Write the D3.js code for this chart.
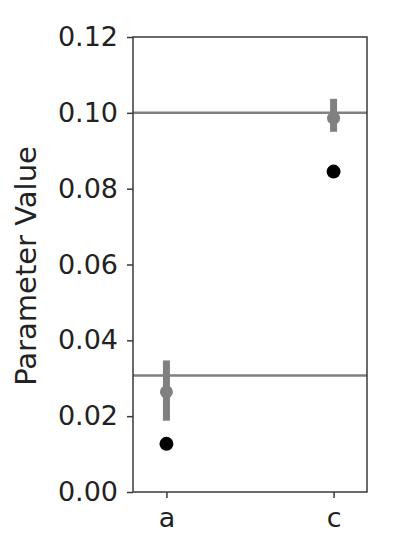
<!DOCTYPE html>
<html>
<head>
<meta charset="utf-8">
<script src="https://cdn.jsdelivr.net/npm/d3@7"></script>
<style>
  body { margin: 0; background: #fff; }
  text { font-family: "DejaVu Sans", sans-serif; }
</style>
</head>
<body>
<svg id="chart" width="407" height="550"></svg>
<script>
// data
const categories = ["a", "c"]
const estimate = [0.0264, 0.0986]
const errLow = [0.0188, 0.0950]
const errHigh = [0.0347, 0.1037]
const truth = [0.0127, 0.0845]
const refLines = [0.1000, 0.0307]
const yTicks = [0, 0.02, 0.04, 0.06, 0.08, 0.10, 0.12]

const svg = d3.select('#chart')
const margin = { left: 133, right: 40, top: 37, bottom: 58 }
const width = 407 - margin.left - margin.right
const height = 550 - margin.top - margin.bottom
const fontSize = 27

const g = svg.append('g').attr('transform', `translate(${margin.left},${margin.top})`)

const x = d3.scalePoint().domain(categories).range([0, width]).padding(0.2)
const y = d3.scaleLinear().domain([0, 0.12]).range([height, 0])

// reference lines
g.selectAll('.ref').data(refLines).enter().append('line')
  .attr('x1', 0).attr('x2', width)
  .attr('y1', d => y(d)).attr('y2', d => y(d))
  .attr('stroke', '#808080').attr('stroke-width', 2.5)

// error bars
g.selectAll('.err').data(categories).enter().append('line')
  .attr('x1', d => x(d)).attr('x2', d => x(d))
  .attr('y1', (d, i) => y(errLow[i])).attr('y2', (d, i) => y(errHigh[i]))
  .attr('stroke', '#808080').attr('stroke-width', 7)

g.selectAll('.est').data(categories).enter().append('circle')
  .attr('cx', d => x(d)).attr('cy', (d, i) => y(estimate[i]))
  .attr('r', 6.5).attr('fill', '#808080')

g.selectAll('.truth').data(categories).enter().append('circle')
  .attr('cx', d => x(d)).attr('cy', (d, i) => y(truth[i]))
  .attr('r', 7).attr('fill', '#000')

// frame
g.append('rect').attr('width', width).attr('height', height)
  .attr('fill', 'none').attr('stroke', '#3a3a3a').attr('stroke-width', 1.5)

const yAxis = g.append('g')
  .call(d3.axisLeft(y).tickValues(yTicks).tickFormat(d3.format('.2f')).tickSize(6).tickPadding(9))
const xAxis = g.append('g').attr('transform', `translate(0,${height})`)
  .call(d3.axisBottom(x).tickSize(6).tickPadding(10))

for (const ax of [yAxis, xAxis]) {
  ax.select('.domain').remove()
  ax.selectAll('line').attr('stroke', '#3a3a3a').attr('stroke-width', 1.5)
  ax.selectAll('text').attr('font-size', fontSize).attr('fill', '#222')
    .style('font-family', '"DejaVu Sans", sans-serif')
}

svg.append('text')
  .attr('transform', `translate(36,266) rotate(-90)`)
  .attr('text-anchor', 'middle')
  .attr('font-size', 29).attr('fill', '#222')
  .text('Parameter Value')
</script>
</body>
</html>
